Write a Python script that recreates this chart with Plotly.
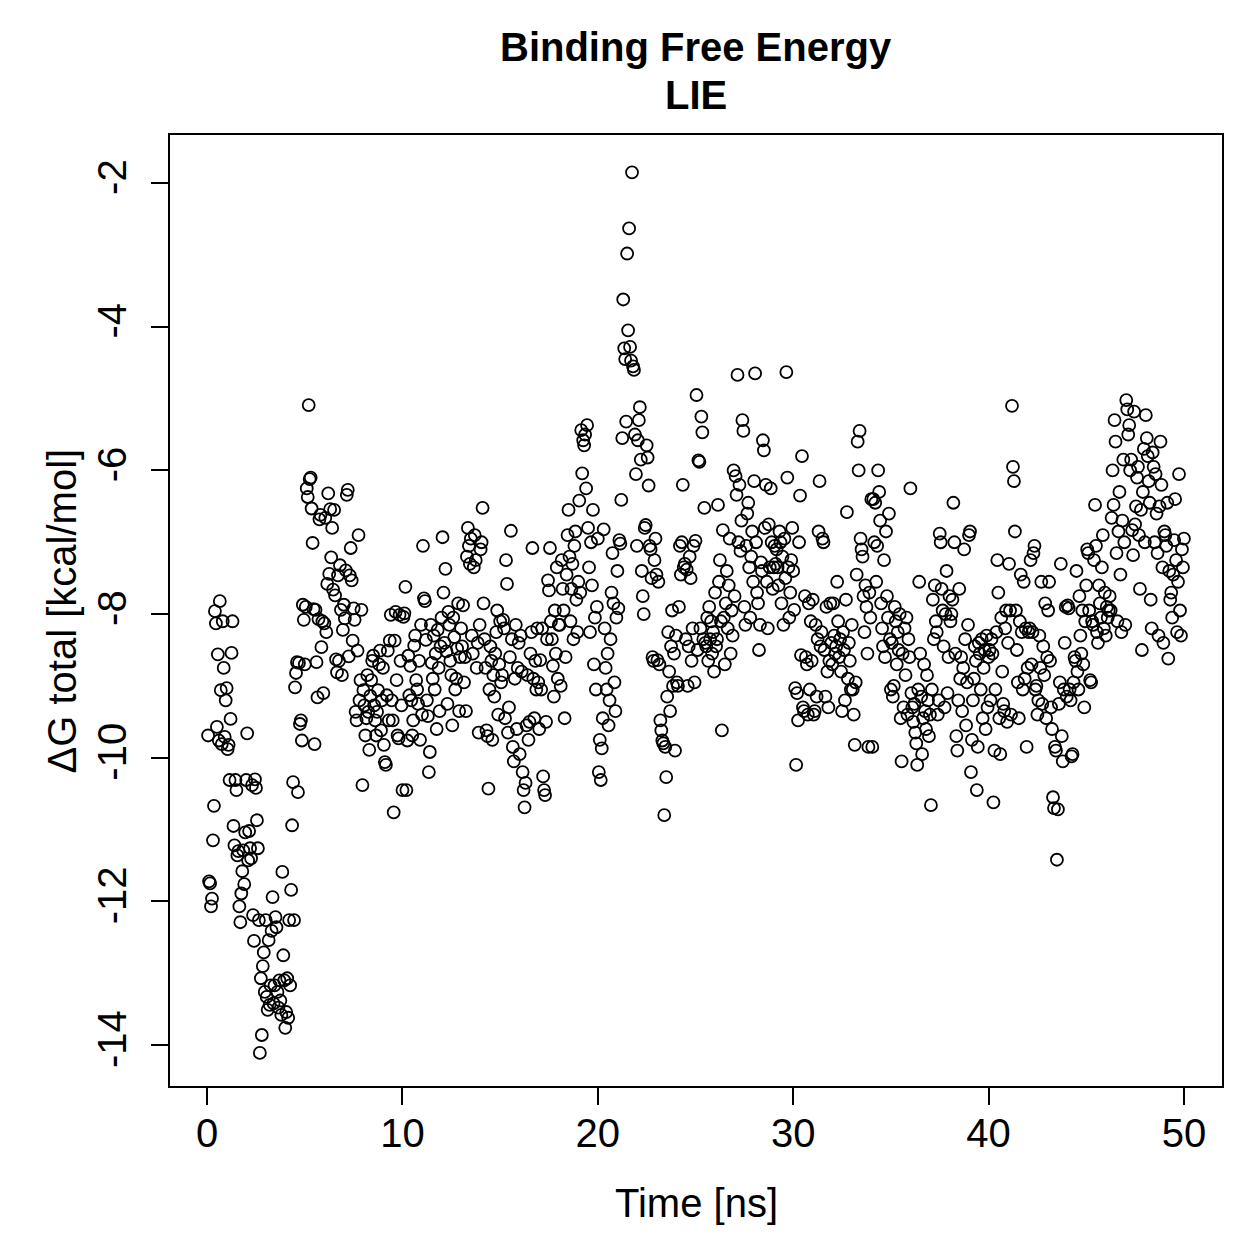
import numpy as np
import plotly.graph_objects as go

# Delta G total [kcal/mol], 20 frames per ns (0.05 ns spacing)
dg_00_10 = [
    -9.69, -11.72, -11.75, -12.07, -11.96, -11.15, -10.67, -7.96, -8.13, -9.57, -8.56, -9.76, -7.82, -9.06, -9.81, -8.10, -8.75, -9.71, -9.20, -9.03,
    -9.88, -9.82, -10.31, -9.46, -8.54, -8.10, -10.95, -11.22, -10.31, -10.45, -11.36, -11.30, -12.07, -12.29, -11.89, -11.58, -11.29, -11.76, -11.04, -10.31,
    -9.66, -11.43, -11.02, -11.26, -11.40, -10.38, -12.19, -12.55, -10.30, -10.42, -10.87, -11.26, -12.26, -14.11, -13.07, -13.86, -12.90, -12.71, -13.26, -12.26,
    -13.33, -13.51, -12.54, -13.44, -13.17, -12.41, -11.94, -13.42, -13.17, -12.22, -12.36, -13.26, -13.48, -13.10, -13.38, -13.58, -11.59, -12.75, -13.10, -13.76,
    -13.54, -13.07, -13.62, -12.26, -13.17, -11.84, -10.94, -10.34, -12.26, -9.02, -8.82, -8.67, -10.48, -8.68, -9.53, -9.48, -9.76, -7.87, -8.08, -8.70,
    -7.90, -6.25, -6.37, -5.09, -6.12, -6.10, -6.53, -7.01, -7.93, -9.81, -7.94, -8.67, -9.16, -8.07, -6.68, -6.62, -8.46, -8.10, -9.10, -8.13,
    -6.66, -8.25, -7.58, -6.32, -7.44, -6.54, -7.21, -6.80, -7.66, -6.55, -7.74, -8.63, -8.81, -7.46, -8.65, -7.32, -7.94, -8.85, -8.22, -7.87,
    -8.06, -7.39, -6.34, -6.27, -8.59, -7.46, -7.08, -7.53, -8.37, -7.92, -8.08, -9.36, -9.48, -8.51, -6.90, -9.20, -8.92, -7.94, -10.38, -9.06,
    -9.27, -9.69, -9.45, -8.85, -9.36, -9.89, -9.14, -8.92, -8.65, -8.58, -9.27, -9.48, -9.69, -9.36, -9.06, -8.70, -8.51, -9.62, -9.20, -8.75,
    -9.82, -10.06, -10.10, -9.13, -8.51, -9.48, -8.37, -8.01, -9.20, -9.48, -10.76, -8.37, -7.97, -8.92, -9.69, -9.73, -8.01, -8.65, -9.27, -10.45,
]
dg_10_20 = [
    -8.04, -7.99, -7.62, -10.45, -9.76, -8.58, -9.13, -8.72, -9.20, -9.69, -9.48, -8.44, -8.30, -8.92, -9.05, -9.25, -8.65, -9.75, -8.15, -9.40,
    -7.05, -7.78, -7.82, -8.36, -9.20, -9.42, -10.20, -9.92, -8.15, -8.68, -8.90, -8.30, -9.05, -8.55, -9.60, -8.22, -8.75, -9.35, -8.45, -8.05,
    -6.93, -7.70, -8.40, -7.37, -8.52, -9.25, -7.97, -8.15, -8.65, -8.85, -9.55, -8.05, -8.32, -9.05, -8.90, -8.48, -7.85, -9.35, -8.60, -8.20,
    -8.45, -7.88, -8.95, -8.60, -9.35, -7.20, -6.80, -7.05, -7.30, -6.95, -8.30, -8.55, -7.35, -6.90, -7.25, -8.75, -8.40, -9.65, -8.15, -7.10,
    -7.00, -6.52, -7.85, -8.35, -8.75, -9.62, -9.70, -10.43, -9.05, -8.45, -8.65, -9.75, -8.85, -9.15, -8.55, -8.25, -7.95, -9.40, -8.70, -8.10,
    -8.95, -8.85, -8.08, -8.20, -9.45, -7.25, -7.58, -9.65, -9.30, -8.60, -6.84, -8.35, -9.85, -10.05, -8.90, -8.15, -9.60, -8.75, -8.40, -9.95,
    -8.30, -8.80, -10.20, -10.45, -10.69, -10.35, -9.55, -8.85, -9.75, -9.50, -8.55, -8.25, -7.08, -8.90, -9.45, -8.65, -9.05, -8.20, -8.95, -9.60,
    -8.64, -9.05, -8.20, -10.26, -10.45, -10.52, -9.50, -8.35, -7.53, -7.67, -7.08, -8.10, -8.35, -8.72, -9.15, -7.95, -8.55, -7.35, -8.90, -8.15,
    -8.15, -9.00, -7.25, -7.65, -7.95, -9.45, -8.60, -7.45, -6.90, -6.55, -7.20, -8.10, -7.65, -7.30, -8.35, -7.05, -6.85, -7.80, -8.25, -7.55,
    -6.42, -7.70, -5.44, -6.04, -5.58, -5.65, -5.50, -6.25, -5.37, -6.80, -7.35, -8.25, -7.00, -7.60, -6.55, -8.70, -8.05, -9.05, -7.90, -6.95,
]
dg_20_30 = [
    -10.20, -9.75, -10.31, -9.87, -9.45, -6.82, -8.20, -8.75, -9.05, -8.55, -9.55, -9.20, -8.35, -7.70, -7.15, -7.85, -8.95, -9.35, -8.05, -7.40,
    -7.92, -6.97, -7.02, -6.41, -5.55, -3.62, -4.30, -4.45, -5.32, -2.98, -4.05, -2.63, -4.28, -4.47, -1.85, -4.55, -4.60, -5.50, -6.05, -7.05,
    -5.58, -5.30, -5.12, -5.85, -7.40, -7.75, -8.00, -6.80, -6.76, -5.65, -5.82, -6.21, -7.05, -7.10, -7.50, -8.60, -8.65, -7.25, -6.95, -7.45,
    -8.64, -7.55, -8.70, -9.48, -9.62, -9.76, -9.80, -10.80, -9.85, -10.27, -9.15, -8.25, -8.80, -9.35, -8.45, -7.95, -9.00, -8.55, -9.90, -8.30,
    -8.95, -9.00, -7.90, -7.05, -7.45, -7.00, -6.20, -7.35, -7.30, -8.35, -7.38, -9.00, -8.45, -7.20, -7.50, -8.65, -8.20, -7.05, -8.95, -6.98,
    -4.95, -8.50, -5.86, -5.88, -8.20, -5.25, -5.47, -8.35, -6.52, -8.40, -8.45, -8.05, -8.65, -7.90, -8.35, -8.10, -8.55, -8.25, -8.80, -7.70,
    -8.45, -8.35, -6.48, -7.55, -7.25, -8.10, -9.62, -6.83, -8.05, -8.70, -7.85, -7.40, -8.20, -7.60, -6.95, -8.55, -7.95, -8.30, -6.00, -7.75,
    -6.08, -6.34, -4.67, -7.00, -6.20, -7.12, -6.70, -5.30, -5.45, -7.90, -8.15, -7.05, -6.60, -6.45, -7.35, -8.05, -7.20, -6.85, -7.55, -6.15,
    -4.65, -7.00, -7.70, -7.85, -8.50, -8.15, -7.28, -7.40, -5.58, -5.72, -6.80, -6.20, -7.55, -8.20, -6.75, -7.35, -6.25, -7.00, -7.65, -7.35,
    -7.05, -7.30, -7.10, -7.35, -7.60, -6.85, -7.00, -7.85, -7.20, -8.15, -6.95, -7.50, -4.63, -6.10, -7.35, -8.05, -7.70, -7.25, -6.80, -7.40,
]
dg_30_40 = [
    -7.94, -9.03, -10.10, -9.10, -9.48, -7.00, -6.35, -8.57, -5.80, -9.30, -9.35, -7.75, -8.60, -8.70, -9.40, -7.85, -9.05, -8.10, -8.65, -7.80,
    -9.40, -9.35, -8.15, -9.15, -8.35, -6.85, -6.15, -8.45, -8.25, -6.95, -7.00, -8.50, -9.15, -7.90, -8.80, -9.30, -8.65, -7.85, -8.40, -8.70,
    -7.85, -8.30, -8.55, -8.45, -7.55, -8.10, -8.60, -8.35, -8.80, -9.35, -8.25, -8.50, -9.20, -7.80, -6.58, -8.90, -8.40, -8.65, -9.05, -8.15,
    -9.05, -9.40, -9.82, -8.95, -7.45, -5.60, -6.00, -5.45, -6.95, -7.10, -7.20, -7.75, -8.25, -7.60, -7.90, -8.55, -9.85, -7.70, -8.05, -6.40,
    -9.85, -6.40, -7.00, -6.45, -7.55, -7.05, -6.00, -6.30, -6.70, -7.85, -8.20, -8.45, -7.25, -8.60, -6.85, -7.75, -8.05, -6.60, -8.35, -9.05,
    -8.40, -9.15, -9.00, -7.90, -8.10, -8.70, -8.25, -8.50, -8.00, -9.45, -10.05, -8.55, -9.30, -8.20, -8.85, -8.05, -9.40, -8.35, -8.60, -6.25,
    -9.10, -9.30, -9.50, -9.25, -9.65, -9.80, -10.10, -9.05, -7.55, -8.55, -9.15, -9.95, -9.45, -8.70, -9.35, -9.60, -8.85, -9.20, -9.70, -9.40,
    -10.66, -9.05, -7.80, -8.35, -7.60, -8.10, -8.25, -9.40, -9.20, -6.88, -7.00, -7.65, -7.95, -8.45, -9.30, -8.00, -7.40, -9.10, -8.60, -7.75,
    -8.10, -8.00, -7.80, -6.45, -7.00, -8.55, -9.70, -9.90, -9.20, -7.65, -8.90, -8.60, -9.35, -8.75, -7.10, -8.35, -9.55, -8.95, -8.15, -6.90,
    -6.85, -10.20, -9.75, -9.20, -8.90, -8.45, -8.65, -10.45, -9.85, -8.40, -8.55, -9.05, -8.35, -9.45, -8.75, -8.50, -9.60, -8.30, -9.30, -8.60,
]
dg_40_50 = [
    -8.50, -9.20, -8.35, -8.55, -10.62, -9.90, -9.05, -8.25, -7.25, -7.70, -9.45, -9.95, -8.05, -8.80, -9.25, -9.35, -8.20, -7.95, -9.50, -8.40,
    -7.30, -7.95, -9.40, -5.10, -5.95, -6.15, -6.85, -7.95, -8.50, -8.95, -9.45, -8.10, -7.45, -8.25, -9.05, -7.55, -8.90, -8.20, -9.85, -8.75,
    -8.25, -8.20, -7.25, -8.70, -8.25, -7.15, -7.05, -9.05, -9.00, -9.40, -9.20, -8.30, -8.75, -7.55, -9.25, -8.45, -8.85, -7.85, -9.45, -8.60,
    -7.95, -7.55, -8.65, -9.30, -9.60, -10.55, -10.70, -9.85, -9.90, -11.42, -10.72, -9.25, -8.95, -7.30, -9.70, -10.05, -9.05, -8.40, -7.90, -9.15,
    -7.88, -7.92, -9.05, -9.20, -9.98, -9.95, -8.95, -8.60, -8.65, -7.40, -8.80, -9.05, -7.75, -8.30, -8.55, -7.95, -8.70, -9.30, -8.10, -7.60,
    -7.10, -7.15, -7.95, -8.92, -8.95, -8.10, -8.15, -7.25, -6.48, -7.05, -8.25, -8.40, -7.60, -7.85, -8.05, -7.35, -6.90, -8.20, -7.70, -8.30,
    -7.90, -8.05, -7.95, -7.75, -7.95, -6.66, -6.00, -6.48, -5.30, -5.60, -7.15, -8.10, -6.85, -6.30, -7.45, -8.25, -6.70, -5.85, -7.00, -8.15,
    -5.02, -5.15, -5.50, -5.37, -6.00, -5.85, -6.83, -7.18, -5.18, -6.75, -6.50, -6.10, -5.95, -6.90, -7.65, -6.55, -8.50, -6.30, -5.70, -7.00,
    -5.23, -5.55, -5.80, -6.15, -6.45, -7.80, -8.20, -5.75, -5.95, -7.00, -6.05, -6.60, -7.15, -8.30, -6.50, -5.60, -6.20, -7.35, -8.40, -6.85,
    -6.90, -7.05, -6.45, -8.62, -7.40, -7.80, -7.70, -8.05, -7.45, -6.97, -6.40, -7.25, -8.25, -7.55, -6.05, -7.95, -8.30, -7.10, -7.35, -6.95,
]

x_tick_vals = [0, 10, 20, 30, 40, 50]
x_tick_text = ["0", "10", "20", "30", "40", "50"]
y_tick_vals = [-14, -12, -10, -8, -6, -4, -2]
y_tick_text = ["-14", "-12", "-10", "-8", "-6", "-4", "-2"]

delta_g = dg_00_10 + dg_10_20 + dg_20_30 + dg_30_40 + dg_40_50
n = len(delta_g)
time_ns = [50.0 * (i + 1) / n for i in range(n)]

FONT = "Liberation Sans, Arial, Helvetica, sans-serif"

fig = go.Figure()
fig.add_trace(go.Scatter(
    x=time_ns, y=delta_g, mode="markers",
    marker=dict(symbol="circle-open", size=12, color="black", line=dict(width=1.8, color="black")),
    showlegend=False, hoverinfo="x+y",
))

axis_common = dict(
    showgrid=False, zeroline=False, showline=True, mirror=True,
    linecolor="black", linewidth=2, ticks="outside", ticklen=17, tickwidth=2,
    tickcolor="black", tickfont=dict(family=FONT, size=40, color="black"),
)

fig.update_layout(
    width=1259, height=1259,
    margin=dict(l=170, r=37, t=135, b=173, autoexpand=False),
    paper_bgcolor="white", plot_bgcolor="white",
    xaxis=dict(range=[-1.9, 51.95], tickmode="array", tickvals=x_tick_vals,
               ticktext=x_tick_text, ticklabelstandoff=-6, **axis_common),
    yaxis=dict(range=[-14.57, -1.33], tickmode="array", tickvals=y_tick_vals,
               ticktext=y_tick_text, tickangle=-90, ticklabelstandoff=9, **axis_common),
    annotations=[
        dict(text="<b>Binding Free Energy</b>", x=0.5, y=1.0925, xref="paper", yref="paper",
             xanchor="center", yanchor="middle", showarrow=False,
             font=dict(family=FONT, size=40, color="black")),
        dict(text="<b>LIE</b>", x=0.5, y=1.042, xref="paper", yref="paper",
             xanchor="center", yanchor="middle", showarrow=False,
             font=dict(family=FONT, size=40, color="black")),
        dict(text="Time [ns]", x=0.5, y=-0.123, xref="paper", yref="paper",
             xanchor="center", yanchor="middle", showarrow=False,
             font=dict(family=FONT, size=40, color="black")),
        dict(text="ΔG total [kcal/mol]", x=-0.1027, y=0.5, xref="paper", yref="paper",
             xanchor="center", yanchor="middle", showarrow=False, textangle=-90,
             font=dict(family=FONT, size=40, color="black")),
    ],
)

fig.write_html("out.html")
